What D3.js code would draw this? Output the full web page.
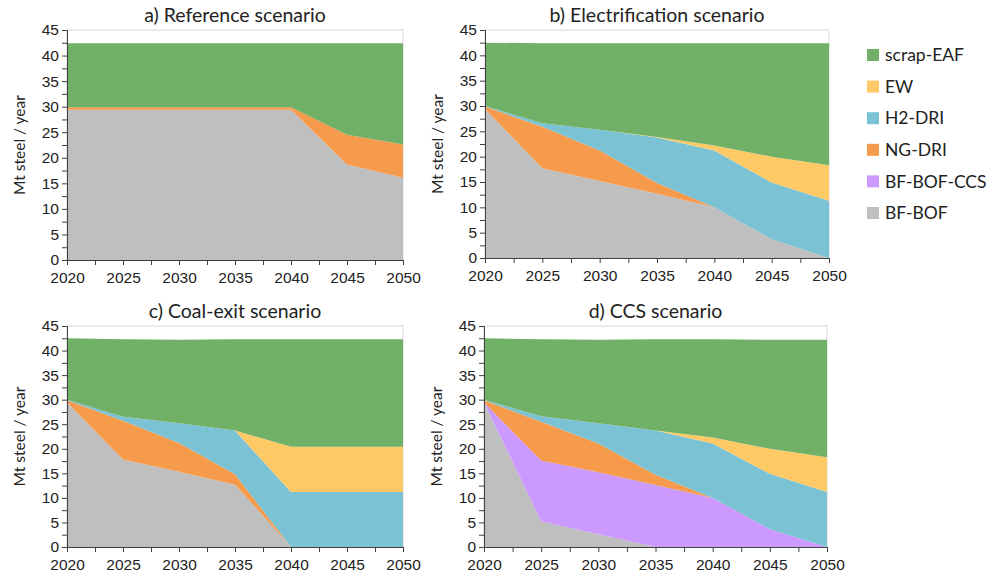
<!DOCTYPE html>
<html>
<head>
<meta charset="utf-8">
<script src="https://cdn.jsdelivr.net/npm/d3@7"></script>
<style>
  body { margin: 0; background: #fff; }
  svg { font-family: Lato, "Liberation Sans", sans-serif; }
</style>
</head>
<body>
<div id="chart"></div>
<script>
// years on the x axis
var years = [2020, 2025, 2030, 2035, 2040, 2045, 2050];
var techs = ["BF-BOF", "BF-BOF-CCS", "NG-DRI", "H2-DRI", "EW", "scrap-EAF"];
var legendOrder = ["scrap-EAF", "EW", "H2-DRI", "NG-DRI", "BF-BOF-CCS", "BF-BOF"];
var colors = {
    "scrap-EAF": "#71b067",
    "EW": "#ffca66",
    "H2-DRI": "#7bc2d4",
    "NG-DRI": "#f69a4b",
    "BF-BOF-CCS": "#cc99ff",
    "BF-BOF": "#bfbfbf"
};

// a) reference
var refBF    = [29.4, 29.4, 29.4, 29.4, 29.4, 18.7, 16.1];
var refCCS   = [0, 0, 0, 0, 0, 0, 0];
var refNG    = [0.5, 0.5, 0.5, 0.5, 0.5, 5.8, 6.5];
var refH2    = [0, 0, 0, 0, 0, 0, 0];
var refEW    = [0, 0, 0, 0, 0, 0, 0];
var refScrap = [12.5, 12.5, 12.5, 12.5, 12.5, 17.9, 19.8];

// b) electrification
var elecBF    = [29.4, 17.7, 15.2, 12.7, 10.0, 3.7, 0];
var elecCCS   = [0, 0, 0, 0, 0, 0, 0];
var elecNG    = [0.5, 8.2, 6.0, 2.1, 0, 0, 0];
var elecH2    = [0.1, 0.7, 4.1, 9.0, 11.2, 11.2, 11.3];
var elecEW    = [0, 0, 0, 0.1, 1.0, 5.1, 7.0];
var elecScrap = [12.5, 15.8, 17.1, 18.5, 20.2, 22.4, 24.1];

// c) coal-exit
var coalBF    = [29.4, 17.8, 15.3, 12.7, 0, 0, 0];
var coalCCS   = [0, 0, 0, 0, 0, 0, 0];
var coalNG    = [0.5, 7.9, 5.9, 2.1, 0, 0, 0];
var coalH2    = [0.1, 0.8, 4.0, 8.9, 11.2, 11.2, 11.2];
var coalEW    = [0, 0, 0, 0, 9.2, 9.2, 9.2];
var coalScrap = [12.5, 15.8, 17.0, 18.6, 21.9, 21.9, 21.9];

// d) CCS
var ccsBF    = [29.4, 5.2, 2.6, 0, 0, 0, 0];
var ccsCCS   = [0, 12.4, 12.6, 12.6, 10.0, 3.6, 0];
var ccsNG    = [0.5, 7.9, 5.9, 2.1, 0, 0, 0];
var ccsH2    = [0.1, 1.1, 4.1, 9.0, 11.1, 11.3, 11.2];
var ccsEW    = [0, 0, 0, 0, 1.2, 5.1, 7.1];
var ccsScrap = [12.5, 15.7, 17.0, 18.6, 20.0, 22.2, 23.9];

var yTicks = [0, 5, 10, 15, 20, 25, 30, 35, 40, 45];

var panels = [
    { title: "a) Reference scenario", x: 67, y: 30, w: 336, h: 230,
      series: [refBF, refCCS, refNG, refH2, refEW, refScrap] },
    { title: "b) Electrification scenario", x: 485, y: 30, w: 344, h: 228,
      series: [elecBF, elecCCS, elecNG, elecH2, elecEW, elecScrap] },
    { title: "c) Coal-exit scenario", x: 67, y: 326, w: 336, h: 221,
      series: [coalBF, coalCCS, coalNG, coalH2, coalEW, coalScrap] },
    { title: "d) CCS scenario", x: 484, y: 326, w: 343, h: 221,
      series: [ccsBF, ccsCCS, ccsNG, ccsH2, ccsEW, ccsScrap] }
];

var svg = d3.select("#chart").append("svg")
    .attr("width", 989)
    .attr("height", 581);

panels.forEach(function(p) {
    var rows = years.map(function(yr, i) {
        var r = { year: yr };
        techs.forEach(function(t, k) { r[t] = p.series[k][i]; });
        return r;
    });

    var x = d3.scaleLinear().domain([2020, 2050]).range([0, p.w]);
    var y = d3.scaleLinear().domain([0, 45]).range([p.h, 0]);

    var stack = d3.stack().keys(techs);
    var area = d3.area()
        .x(function(d) { return x(d.data.year); })
        .y0(function(d) { return y(d[0]); })
        .y1(function(d) { return y(d[1]); });

    var g = svg.append("g")
        .attr("transform", "translate(" + p.x + "," + p.y + ")");

    // plot border
    g.append("rect")
        .attr("width", p.w).attr("height", p.h)
        .attr("fill", "none").attr("stroke", "#d9d9d9");

    g.selectAll("path.layer")
        .data(stack(rows))
        .enter()
        .append("path")
        .attr("class", "layer")
        .attr("d", area)
        .style("fill", function(d) { return colors[d.key]; });

    // y axis, minor ticks every 2.5
    var yAxis = d3.axisLeft(y)
        .tickValues(d3.range(0, 45.1, 2.5))
        .tickSize(5)
        .tickFormat(function(d) { return yTicks.indexOf(d) >= 0 ? d : ""; });
    var ya = g.append("g").call(yAxis);
    ya.select(".domain").attr("stroke", "#404040");
    ya.selectAll(".tick line").attr("stroke", "#404040");
    ya.selectAll(".tick text")
        .attr("x", -8)
        .style("font-size", "15.5px").attr("fill", "#222");

    var xAxis = d3.axisBottom(x)
        .tickValues(d3.range(2020, 2050.1, 2.5))
        .tickSize(5)
        .tickSizeOuter(0)
        .tickFormat(function(d) { return years.indexOf(d) >= 0 ? d : ""; });
    var xa = g.append("g")
        .attr("transform", "translate(0," + p.h + ")")
        .call(xAxis);
    xa.select(".domain").attr("stroke", "#404040");
    xa.selectAll(".tick line").attr("stroke", "#404040");
    xa.selectAll(".tick text")
        .attr("y", 12)
        .style("font-size", "15.5px").attr("fill", "#222");

    g.append("text")
        .attr("x", p.w / 2)
        .attr("y", -8)
        .attr("text-anchor", "middle")
        .style("font-size", "19.5px")
        .attr("fill", "#222")
        .text(p.title);

    g.append("text")
        .attr("transform", "translate(" + -42 + "," + p.h / 2 + ") rotate(-90)")
        .attr("text-anchor", "middle")
        .style("font-size", "15.5px")
        .attr("fill", "#222")
        .text("Mt steel / year");
});

// legend
var legend = svg.append("g").attr("transform", "translate(867,55)");
legendOrder.forEach(function(t, i) {
    var row = legend.append("g").attr("transform", "translate(0," + i * 31.6 + ")");
    row.append("rect")
        .attr("x", 0).attr("y", -6)
        .attr("width", 12).attr("height", 12)
        .attr("fill", colors[t]);
    row.append("text")
        .attr("x", 18).attr("y", 0)
        .attr("dy", "0.35em")
        .style("font-size", "17.5px")
        .attr("fill", "#222")
        .text(t);
});
</script>
</body>
</html>
